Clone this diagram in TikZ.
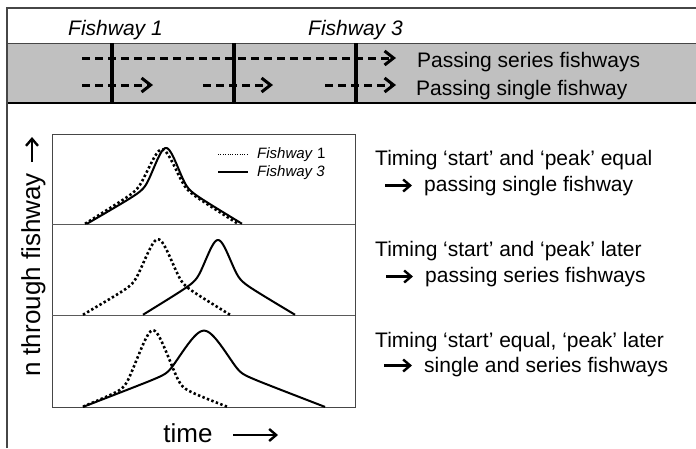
\documentclass[tikz,border=0pt]{standalone}
\usepackage{fontspec}
\setmainfont{Liberation Sans}
\usetikzlibrary{arrows.meta}

\definecolor{bandgray}{RGB}{192,192,192}
\definecolor{framegray}{RGB}{70,70,70}
\definecolor{panelgray}{RGB}{90,90,90}

\tikzset{
  lbl/.style={font=\fontsize{21}{25}\selectfont, inner sep=0pt, anchor=base west},
  toplbl/.style={lbl, font=\fontsize{21}{25}\selectfont\itshape},
  axislbl/.style={font=\fontsize{26}{30}\selectfont, inner sep=0pt, anchor=base},
  legtxt/.style={font=\fontsize{15}{18}\selectfont, inner sep=0pt, anchor=base west},
  flow/.style={line width=3pt, dash pattern=on 8pt off 5pt,
    -{Straight Barb[length=9pt,width=14pt]}},
  barrier/.style={line width=4pt},
  solidcurve/.style={line width=2pt, line join=round},
  dotcurve/.style={line width=2.6pt, dash pattern=on 2.4pt off 2.4pt},
  legdot/.style={line width=1pt, dash pattern=on 1pt off 1.4pt},
  legsolid/.style={line width=1.6pt},
  txtarrow/.style={line width=2.4pt, -{Straight Barb[length=7pt,width=12pt]}},
  plotframe/.style={draw=framegray, line width=1pt},
  divider/.style={draw=panelgray, line width=1pt}
}

% Passage curve over time: a wide tent from #2 to #4 (peak at #3, height #6)
% plus a narrow rounded peak of height #7 and half width #8, on baseline #5
\newcommand\pkround{0.7}
\newcommand\peakcurve[8]{%
  \draw[#1] plot[variable=\t, domain=#2:#4, samples=170]
    (\t, {#5
      - (#6)*(veclen(ifthenelse(\t<#3,#3-#2,#4-#3)/10,0.7)-veclen((\t-#3)/10,0.7))
        /(veclen(ifthenelse(\t<#3,#3-#2,#4-#3)/10,0.7)-0.7)
      - (#7)*((#8/10-veclen((\t-#3)/10,\pkround))
        + veclen(#8/10-veclen((\t-#3)/10,\pkround),0.5))/(2*(#8/10-\pkround))});
}

\begin{document}
\begin{tikzpicture}[x=1pt, y=-1pt]
\useasboundingbox (0,0) rectangle (696,448);

% band with the three fishways
\fill[bandgray] (7,43) rectangle (696,103);
\draw[framegray, line width=1pt] (7,43) -- (696,43);
\draw[black, line width=2pt] (7,103) -- (696,103);
\draw[framegray, line width=1.4pt] (7,448) -- (7,8) -- (696,8);

\node[toplbl] (fw1) at (68,35) {Fishway 1};
\node[toplbl] (fw3) at (308,35) {Fishway 3};

\draw[flow] (82,58) -- (396,58);
\draw[flow] (82,85) -- (153,85);
\draw[flow] (203,85) -- (273,85);
\draw[flow] (325,85) -- (396,85);

\draw[barrier] (112,43) -- (112,103);
\draw[barrier] (234,43) -- (234,103);
\draw[barrier] (356,43) -- (356,103);

\node[lbl] (series) at (417,67) {Passing series fishways};
\node[lbl] (single) at (416,95) {Passing single fishway};

% three panels of passage over time
\draw[plotframe] (52,134) rectangle (355,407);
\draw[divider] (52,224) -- (355,224);
\draw[divider] (52,315) -- (355,315);

\peakcurve{dotcurve}{85}{162}{238}{224}{44}{30}{24}
\peakcurve{solidcurve}{87}{166}{242}{224}{42}{33}{21}

\peakcurve{dotcurve}{83}{158}{230}{315}{40}{35}{24}
\peakcurve{solidcurve}{143}{218}{295}{315}{42}{32}{21}

\peakcurve{dotcurve}{83}{153}{227}{407}{26}{50}{28}
{\renewcommand\pkround{1.4}%
 \peakcurve{solidcurve}{83}{204}{325}{407}{44}{32}{38}}

% legend
\coordinate (l1a) at (218,154); \coordinate (l1b) at (248,154);
\coordinate (l2a) at (218,172); \coordinate (l2b) at (248,172);
\draw[legdot] (l1a) -- (l1b);
\draw[legsolid] (l2a) -- (l2b);
\node[legtxt] (leg1) at (257,158) {\textit{Fishway} 1};
\node[legtxt] (leg3) at (257,176) {\textit{Fishway 3}};

% axis labels
\node[axislbl, rotate=90] (ylab) at (40,275) {n through fishway};
\coordinate (ya) at (32,162); \coordinate (yb) at (32,137);
\draw[txtarrow] (ya) -- (yb);
\node[axislbl] (xlab) at (188,442) {time};
\coordinate (xa) at (233,435); \coordinate (xb) at (278,435);
\draw[txtarrow] (xa) -- (xb);

% interpretation of each panel
\node[lbl] (r1a) at (375,165) {Timing ‘start’ and ‘peak’ equal};
\node[lbl] (r1b) at (424,191) {passing single fishway};
\coordinate (a1s) at (385,185.5); \coordinate (a1e) at (412,185.5);
\draw[txtarrow] (a1s) -- (a1e);

\node[lbl] (r2a) at (375,256) {Timing ‘start’ and ‘peak’ later};
\node[lbl] (r2b) at (425,282) {passing series fishways};
\coordinate (a2s) at (386,276.5); \coordinate (a2e) at (413,276.5);
\draw[txtarrow] (a2s) -- (a2e);

\node[lbl] (r3a) at (375,347) {Timing ‘start’ equal, ‘peak’ later};
\node[lbl] (r3b) at (424,372) {single and series fishways};
\coordinate (a3s) at (384,365.5); \coordinate (a3e) at (412,365.5);
\draw[txtarrow] (a3s) -- (a3e);
\end{tikzpicture}
\end{document}
